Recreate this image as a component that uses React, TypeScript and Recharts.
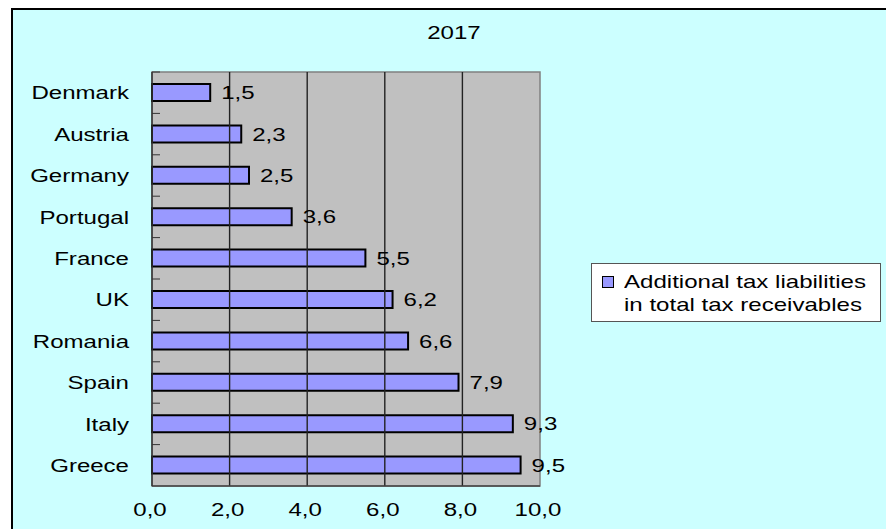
import React from 'react';
import { BarChart, Bar, XAxis, YAxis, CartesianGrid, ReferenceLine, ReferenceArea, LabelList } from 'recharts';

const countries = ['Denmark', 'Austria', 'Germany', 'Portugal', 'France', 'UK', 'Romania', 'Spain', 'Italy', 'Greece'];
const shares = [1.5, 2.3, 2.5, 3.6, 5.5, 6.2, 6.6, 7.9, 9.3, 9.5];
const xTicks = [0, 2, 4, 6, 8, 10];
const chartTitle = '2017';
const seriesLines = ['Additional tax liabilities', 'in total tax receivables'];

const data = countries.map((country, i) => ({ country, value: shares[i] }));

const FONT = '"Liberation Sans", Arial, sans-serif';
const FS = 18.5;
const STRETCH = 'scale(1.3,1)';
const BAND = (529 - 72 - 43) / countries.length;

const comma = (v: number, d: number) => v.toFixed(d).replace('.', ',');

const YTick = (props: any) => {
  const { x, y, payload } = props;
  return (
    <g>
      <line x1={x} x2={x + 8} y1={y - BAND / 2} y2={y - BAND / 2} stroke="#333" />
      <text
        transform={`translate(${x - 23},${y}) ${STRETCH}`}
        textAnchor="end"
        dy="0.36em"
        fontSize={FS}
        fontFamily={FONT}
        fill="#000"
      >
        {payload.value}
      </text>
    </g>
  );
};

const XTick = (props: any) => {
  const { x, y, payload } = props;
  return (
    <text
      transform={`translate(${x - 2},${y + 30}) ${STRETCH}`}
      textAnchor="middle"
      fontSize={FS}
      fontFamily={FONT}
      fill="#000"
    >
      {comma(payload.value, 1)}
    </text>
  );
};

const ValueLabel = (props: any) => {
  const { x, y, width, height, value } = props;
  return (
    <text
      transform={`translate(${x + width + 11},${y + height / 2}) ${STRETCH}`}
      textAnchor="start"
      dy="0.36em"
      fontSize={FS}
      fontFamily={FONT}
      fill="#000"
    >
      {comma(value, 1)}
    </text>
  );
};

// legend drawn as a plain box next to the plot
const LegendBox = () => (
  <div
    style={{
      position: 'absolute',
      left: 591,
      top: 263,
      width: 290,
      height: 59,
      boxSizing: 'border-box',
      background: '#fff',
      border: '1px solid #555',
      fontFamily: FONT,
      fontSize: FS,
      color: '#000',
    }}
  >
    <div
      style={{
        position: 'absolute',
        left: 10,
        top: 12,
        width: 10,
        height: 10,
        background: '#9999FF',
        border: '1.5px solid #000',
      }}
    />
    {seriesLines.map((line, i) => (
      <div
        key={i}
        style={{
          position: 'absolute',
          left: 32,
          top: 7 + i * 23,
          lineHeight: '22px',
          whiteSpace: 'nowrap',
          transform: 'scaleX(1.3)',
          transformOrigin: 'left center',
        }}
      >
        {line}
      </div>
    ))}
  </div>
);

export default function App() {
  return (
    <div style={{ position: 'absolute', left: 0, top: 0, width: 886, height: 529, background: '#fff', overflow: 'hidden' }}>
      <div
        style={{
          position: 'absolute',
          left: 11,
          top: 8,
          width: 880,
          height: 530,
          background: '#CCFFFF',
          borderTop: '2px solid #000',
          borderLeft: '2px solid #000',
        }}
      />
      <div
        style={{
          position: 'absolute',
          left: 454,
          top: 22,
          transform: 'translateX(-50%) scaleX(1.3)',
          fontFamily: FONT,
          fontSize: FS,
          lineHeight: '22px',
          color: '#000',
        }}
      >
        {chartTitle}
      </div>
      <div style={{ position: 'absolute', left: 0, top: 0 }}>
        <BarChart
          width={886}
          height={529}
          data={data}
          layout="vertical"
          margin={{ top: 72, right: 346, bottom: 0, left: 0 }}
          barCategoryGap={0}
        >
          <CartesianGrid fill="#C0C0C0" vertical={false} horizontal={false} />
          {xTicks.slice(1, -1).map((t) => (
            <ReferenceLine key={t} x={t} stroke="#222" strokeWidth={1.4} />
          ))}
          <ReferenceArea x1={0} x2={10} fill="none" stroke="#808080" strokeWidth={1.5} />
          <XAxis
            type="number"
            domain={[0, 10]}
            ticks={xTicks}
            height={43}
            tickSize={0}
            tickMargin={0}
            tickLine={false}
            axisLine={{ stroke: '#444', strokeWidth: 1.5 }}
            tick={<XTick />}
          />
          <YAxis
            type="category"
            dataKey="country"
            width={152}
            tickSize={0}
            tickMargin={0}
            tickLine={false}
            axisLine={{ stroke: '#333', strokeWidth: 1.5 }}
            tick={<YTick />}
          />
          <Bar
            dataKey="value"
            name={seriesLines.join(' ')}
            fill="#9999FF"
            stroke="#000"
            strokeWidth={2}
            barSize={17}
            isAnimationActive={false}
          >
            <LabelList dataKey="value" content={<ValueLabel />} />
          </Bar>
        </BarChart>
      </div>
      <LegendBox />
    </div>
  );
}
